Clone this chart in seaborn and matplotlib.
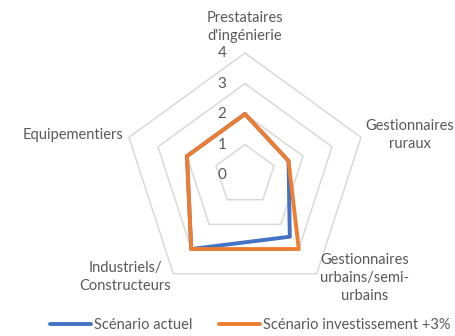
import numpy as np
import pandas as pd
import matplotlib
matplotlib.use("Agg")
import matplotlib.pyplot as plt
import seaborn as sns

# data
categories = ["Prestataires\nd'ingénierie", "Gestionnaires\nruraux",
              "Gestionnaires\nurbains/semi-\nurbains", "Industriels/\nConstructeurs",
              "Equipementiers"]
actuel = [2, 1.5, 2.5, 3, 2]
invest = [2, 1.5, 3, 3, 2]
series_names = ["Scénario actuel", "Scénario investissement +3%"]
rings = [1, 2, 3, 4]
ring_labels = ["0", "1", "2", "3", "4"]

sns.set_style("white")
plt.rcParams['font.family'] = ['Lato', 'DejaVu Sans']
grey_txt = "#595959"
grid_col = "#D9D9D9"
colors = ["#4472C4", "#ED7D31"]

n = len(categories)
theta = np.linspace(0, 2 * np.pi, n, endpoint=False)
theta_closed = np.append(theta, 2 * np.pi)

rows = []
for name, vals in zip(series_names, [actuel, invest]):
    closed = list(vals) + [vals[0]]
    for i, (t, v) in enumerate(zip(theta_closed, closed)):
        rows.append({"serie": name, "theta": t, "valeur": v, "ordre": i})
df = pd.DataFrame(rows)

fig = plt.figure(figsize=(4.55, 3.36), dpi=100)
ax = fig.add_axes([0.2703, 0.116, 0.5363, 0.7262], projection="polar")
ax.set_theta_offset(np.pi / 2)
ax.set_theta_direction(-1)

# pentagon grid
for r in rings:
    ax.plot(theta_closed, [r] * (n + 1), color=grid_col, lw=1.1, clip_on=False, zorder=1)

sns.lineplot(data=df, x="theta", y="valeur", hue="serie", palette=colors,
             sort=False, estimator=None, units="serie", lw=2.8, ax=ax,
             legend=False, zorder=3)
for ln in ax.lines:
    ln.set_clip_on(False)

ax.set_ylim(0, 4)
ax.grid(False)
ax.set_xticks([])
ax.set_yticks([])
ax.set_xlabel("")
ax.set_ylabel("")
ax.spines["polar"].set_visible(False)
ax.patch.set_alpha(0)

# radial labels
for i, lab in enumerate(ring_labels):
    ax.annotate(lab, xy=(0, i), xytext=(-16.5, 0), textcoords="offset points",
                ha="center", va="center", fontsize=11, color=grey_txt,
                annotation_clip=False)

# category labels
label_pos = [(0.538, 0.920), (0.901, 0.598), (0.802, 0.173), (0.275, 0.176), (0.160, 0.598)]
for lab, (x, y) in zip(categories, label_pos):
    fig.text(x, y, lab, ha="center", va="center", fontsize=10.5, color=grey_txt,
             linespacing=1.35, multialignment="center")

handles = [plt.Line2D([], [], color=c, lw=2.8) for c in colors]
fig.legend(handles, series_names, loc="center", bbox_to_anchor=(0.55, 0.033),
           ncol=2, frameon=False, fontsize=10.5, labelcolor=grey_txt,
           handlelength=2.8, handletextpad=0.2, columnspacing=1.8)

fig.savefig("out.png", dpi=100)
